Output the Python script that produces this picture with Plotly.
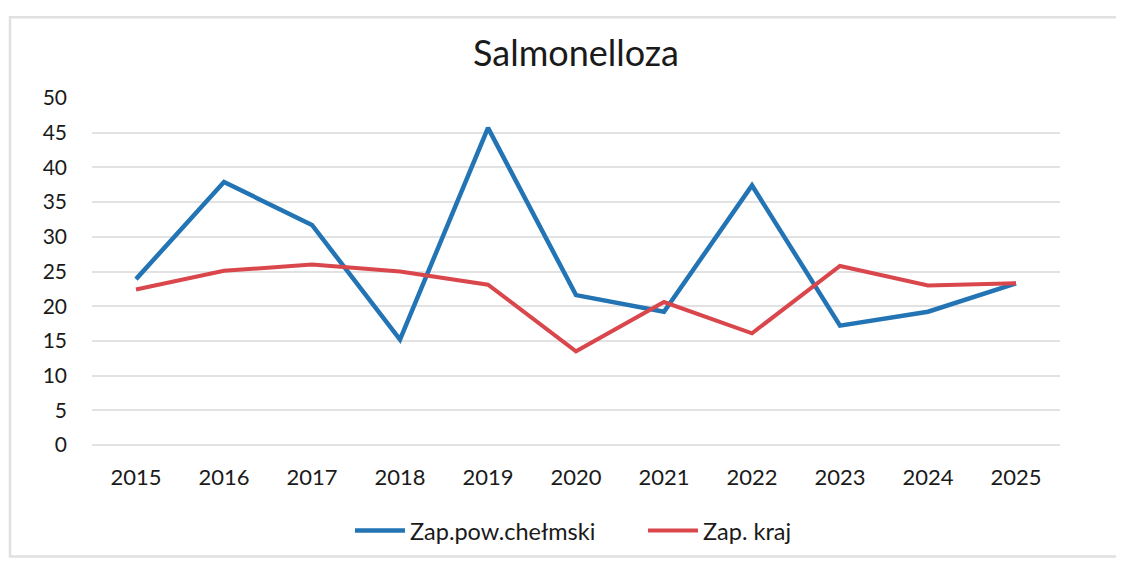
import plotly.graph_objects as go

years = ["2015", "2016", "2017", "2018", "2019", "2020", "2021", "2022", "2023", "2024", "2025"]
powiat = [23.9, 37.9, 31.7, 15.2, 45.7, 21.6, 19.2, 37.4, 17.2, 19.2, 23.3]
kraj = [22.4, 25.1, 26.0, 25.0, 23.1, 13.5, 20.6, 16.1, 25.8, 23.0, 23.3]
y_ticks = [0, 5, 10, 15, 20, 25, 30, 35, 40, 45, 50]

FONT = "Lato"

fig = go.Figure()
fig.add_trace(go.Scatter(x=years, y=powiat, mode="lines", name="Zap.pow.chełmski",
                         line=dict(color="#2374b4", width=4.5)))
fig.add_trace(go.Scatter(x=years, y=kraj, mode="lines", name="Zap. kraj",
                         line=dict(color="#d9464c", width=4)))

# page body has an 8px margin, so the figure is sized to fit inside the window
fig.update_layout(
    width=1116, height=557,
    margin=dict(l=84, r=64, t=90, b=115),
    paper_bgcolor="white", plot_bgcolor="white",
    font=dict(family=FONT, color="#222222"),
    title=dict(text="Salmonelloza", x=0.5, xref="paper", xanchor="center",
               y=1 - 45 / 557, yref="container", yanchor="middle",
               font=dict(family=FONT, size=36, color="#1a1a1a")),
    showlegend=True,
    legend=dict(orientation="h", x=0.2665, xanchor="left", y=-0.247, yanchor="middle",
                bgcolor="rgba(0,0,0,0)",
                font=dict(family=FONT, size=23.5, color="#1a1a1a"),
                itemwidth=50, tracegroupgap=0, entrywidthmode="pixels", entrywidth=228),
    shapes=[dict(type="rect", xref="paper", yref="paper", x0=-0.0847, x1=1.08,
                 y0=-0.321, y1=1.233, line=dict(color="#e0e0e0", width=2.5), layer="below")],
)
fig.update_xaxes(type="category", range=[-0.5, 10.5], showgrid=False, showline=False,
                 ticks="", tickfont=dict(family=FONT, size=22, color="#1a1a1a"),
                 ticklabelstandoff=17)
fig.update_yaxes(range=[0, 50], tickvals=y_ticks, showgrid=True, gridcolor="#e2e2e2",
                 gridwidth=2, zeroline=True, zerolinecolor="#e2e2e2", zerolinewidth=2,
                 showline=False, ticks="", tickfont=dict(family=FONT, size=21, color="#1a1a1a"),
                 ticklabelstandoff=24)

fig.write_html("out.html")
